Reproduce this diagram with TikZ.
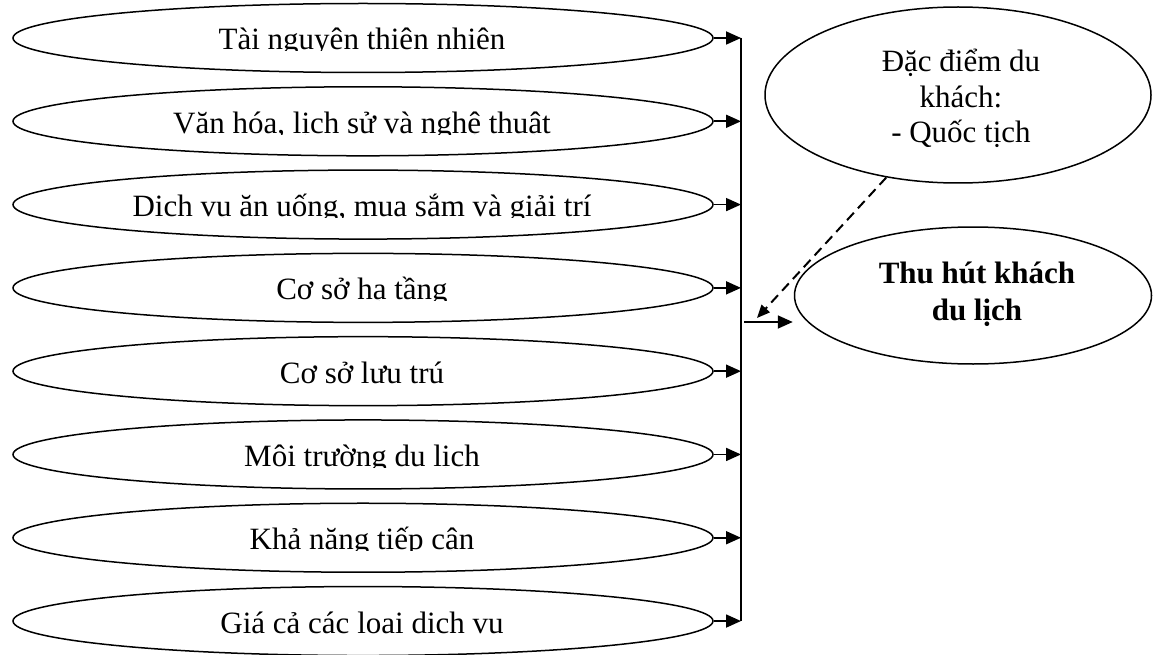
\documentclass[tikz,border=0pt]{standalone}
\usepackage{fontspec}
\setmainfont{Liberation Serif}
\usetikzlibrary{shapes.geometric,arrows.meta}
\begin{document}
\begin{tikzpicture}[x=1pt,y=-1pt,
  item/.style={draw,ellipse,line width=1.5pt,minimum width=700pt,minimum height=69pt,inner sep=0pt},
  lbl/.style={font=\fontsize{31}{35.5}\selectfont,anchor=base,inner sep=0pt},
  arr/.style={line width=1.8pt,-{Triangle[length=15pt,width=13pt]}},
  bus/.style={line width=1.8pt},
]
\useasboundingbox (0,0) rectangle (1153,655);
\foreach \i/\t in {1/{Tài nguyên thiên nhiên},
                   2/{Văn hóa, lịch sử và nghệ thuật},
                   3/{Dịch vụ ăn uống, mua sắm và giải trí},
                   4/{Cơ sở hạ tầng},
                   5/{Cơ sở lưu trú},
                   6/{Môi trường du lịch},
                   7/{Khả năng tiếp cận},
                   8/{Giá cả các loại dịch vụ}}{
  \pgfmathsetmacro{\yy}{38+(\i-1)*83.29}
  \node[item] (e\i) at (363,\yy) {};
  \coordinate (b\i) at (741,\yy);
  \begin{scope}
    \clip (0,\yy-45) rectangle (740,\yy+12.8);
    \node[lbl] (t\i) at (362,\yy+12) {\t};
  \end{scope}
  \draw[arr] (e\i.east) -- (b\i);
}
\draw[bus] (b1) -- (b8);

\node[draw,ellipse,line width=1.5pt,minimum width=386pt,minimum height=176pt,inner sep=0pt] (dk) at (958,95) {};
\node[lbl,align=center] (dkt) at (961,143) {Đặc điểm du\\khách:\\- Quốc tịch};

\node[draw,ellipse,line width=1.5pt,minimum width=357pt,minimum height=137pt,inner sep=0pt] (thu) at (973,295.5) {};
\node[lbl,align=center,font=\fontsize{31}{37}\selectfont\bfseries] (thut) at (977,320) {Thu hút khách\\du lịch};

\coordinate (hs) at (744,322);
\draw[arr] (hs) -- ([xshift=-1pt]thu.west |- hs);

\coordinate (de) at (757,318);
\draw[line width=2pt,dash pattern=on 10pt off 6pt,-{Triangle[length=13pt,width=11pt]}] (dk.229.5) -- (de);
\end{tikzpicture}
\end{document}
